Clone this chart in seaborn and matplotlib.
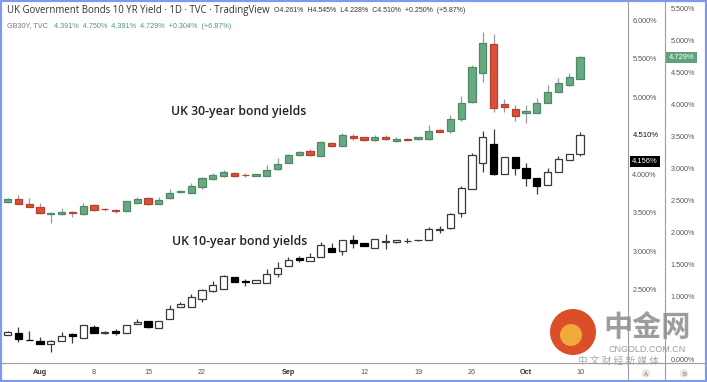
import numpy as np
import pandas as pd
import matplotlib
matplotlib.use("Agg")
import matplotlib.pyplot as plt
import seaborn as sns
from matplotlib.lines import Line2D
from matplotlib.patches import Rectangle, Ellipse
from matplotlib.ticker import FixedLocator, FuncFormatter

# ---------------- data ----------------
dates = pd.bdate_range("2022-07-27", "2022-10-10")

# UK 30Y (GB30Y) OHLC, %
o30 = [2.469, 2.520, 2.438, 2.395, 2.289, 2.281, 2.313, 2.281, 2.427, 2.359,
       2.348, 2.328, 2.448, 2.536, 2.433, 2.527, 2.620, 2.609, 2.708, 2.828,
       2.870, 2.927, 2.895, 2.880, 2.880, 2.980, 3.083, 3.203, 3.270, 3.192,
       3.395, 3.348, 3.495, 3.480, 3.430, 3.480, 3.422, 3.461, 3.448, 3.448,
       3.591, 3.578, 3.766, 4.027, 4.489, 4.938, 4.000, 3.922, 3.855, 3.864,
       4.020, 4.192, 4.297, 4.391]
h30 = [2.536, 2.578, 2.527, 2.448, 2.313, 2.380, 2.328, 2.448, 2.438, 2.375,
       2.359, 2.484, 2.542, 2.547, 2.552, 2.677, 2.656, 2.761, 2.852, 2.917,
       2.969, 2.938, 2.927, 2.914, 3.052, 3.161, 3.219, 3.273, 3.297, 3.422,
       3.406, 3.542, 3.539, 3.492, 3.516, 3.508, 3.477, 3.469, 3.484, 3.672,
       3.602, 3.828, 4.125, 4.609, 5.120, 5.089, 4.078, 3.984, 3.984, 4.098,
       4.297, 4.402, 4.480, 4.750]
l30 = [2.461, 2.433, 2.391, 2.277, 2.136, 2.273, 2.239, 2.273, 2.328, 2.333,
       2.292, 2.320, 2.445, 2.422, 2.430, 2.523, 2.609, 2.602, 2.677, 2.820,
       2.867, 2.867, 2.864, 2.875, 2.875, 2.973, 3.078, 3.195, 3.195, 3.188,
       3.328, 3.344, 3.438, 3.422, 3.422, 3.438, 3.414, 3.422, 3.445, 3.445,
       3.555, 3.547, 3.734, 4.016, 4.348, 3.875, 3.880, 3.739, 3.698, 3.859,
       4.016, 4.188, 4.289, 4.391]
c30 = [2.516, 2.442, 2.395, 2.292, 2.297, 2.313, 2.297, 2.411, 2.344, 2.352,
       2.336, 2.480, 2.520, 2.438, 2.500, 2.609, 2.645, 2.714, 2.844, 2.891,
       2.933, 2.875, 2.886, 2.906, 2.973, 3.063, 3.198, 3.255, 3.203, 3.411,
       3.339, 3.516, 3.469, 3.433, 3.481, 3.448, 3.461, 3.433, 3.477, 3.583,
       3.566, 3.766, 4.020, 4.573, 4.948, 3.933, 3.953, 3.817, 3.886, 4.020,
       4.192, 4.323, 4.417, 4.729]

# UK 10Y OHLC, %
o10 = [1.909, 1.931, 1.848, 1.835, 1.788, 1.827, 1.922, 1.870, 2.017, 1.931,
       1.957, 1.931, 2.052, 2.095, 2.000, 2.123, 2.273, 2.277, 2.373, 2.481,
       2.503, 2.658, 2.604, 2.588, 2.588, 2.701, 2.809, 2.913, 2.874, 2.918,
       3.035, 3.004, 3.143, 3.108, 3.043, 3.113, 3.113, 3.132, 3.139, 3.143,
       3.277, 3.295, 3.490, 3.801, 4.139, 4.390, 4.000, 4.217, 4.082, 3.944,
       3.857, 4.030, 4.182, 4.261]
h10 = [1.955, 2.009, 1.961, 1.883, 1.844, 1.952, 1.929, 2.039, 2.043, 1.961,
       1.983, 2.045, 2.117, 2.097, 2.091, 2.295, 2.342, 2.438, 2.501, 2.610,
       2.682, 2.662, 2.640, 2.627, 2.762, 2.860, 2.926, 2.935, 2.978, 3.121,
       3.108, 3.149, 3.208, 3.110, 3.156, 3.221, 3.149, 3.164, 3.143, 3.308,
       3.325, 3.500, 3.848, 4.269, 4.558, 4.584, 4.221, 4.221, 4.139, 3.948,
       4.074, 4.234, 4.260, 4.545]
l10 = [1.903, 1.822, 1.838, 1.786, 1.692, 1.825, 1.801, 1.864, 1.929, 1.925,
       1.905, 1.929, 2.048, 2.000, 1.994, 2.121, 2.269, 2.273, 2.342, 2.474,
       2.501, 2.597, 2.545, 2.584, 2.584, 2.666, 2.805, 2.861, 2.870, 2.916,
       2.987, 2.948, 3.035, 3.065, 3.039, 3.022, 3.110, 3.100, 3.136, 3.139,
       3.230, 3.292, 3.445, 3.799, 4.030, 3.987, 3.996, 3.987, 3.844, 3.740,
       3.853, 4.026, 4.178, 4.228]
c10 = [1.944, 1.861, 1.840, 1.792, 1.835, 1.896, 1.896, 2.035, 1.931, 1.952,
       1.935, 2.043, 2.082, 2.009, 2.087, 2.253, 2.309, 2.406, 2.494, 2.558,
       2.675, 2.601, 2.597, 2.623, 2.701, 2.775, 2.883, 2.883, 2.926, 3.078,
       2.991, 3.143, 3.108, 3.069, 3.152, 3.126, 3.143, 3.136, 3.143, 3.282,
       3.286, 3.487, 3.814, 4.247, 4.477, 4.000, 4.217, 4.082, 3.944, 3.848,
       4.030, 4.191, 4.256, 4.510]

tick_dates = ["2022-08-01", "2022-08-08", "2022-08-15", "2022-08-22", "2022-09-01",
              "2022-09-12", "2022-09-19", "2022-09-26", "2022-10-03", "2022-10-10"]
tick_labels = ["Aug", "8", "15", "22", "Sep", "12", "19", "26", "Oct", "10"]
month_labels = {"Aug", "Sep", "Oct"}

ticks_10y = [2.5, 3.0, 3.5, 4.0, 5.0, 5.5, 6.0]
ticks_30y = [0.0, 1.0, 1.5, 2.0, 2.5, 3.0, 3.5, 4.0, 4.5, 5.0, 5.5]

df = pd.DataFrame({"date": dates, "o30": o30, "h30": h30, "l30": l30, "c30": c30,
                   "o10": o10, "h10": h10, "l10": l10, "c10": c10})
df["i"] = np.arange(len(df))

# ---------------- style ----------------
sns.set_theme(style="white")
plt.rcParams["font.family"] = ["Liberation Sans", "DejaVu Sans"]

W, H = 707, 382
fig = plt.figure(figsize=(W / 100, H / 100), dpi=100)
fig.patch.set_facecolor("white")

def fx(px):
    return px / W

def fy(py):
    return 1 - py / H

ax = fig.add_axes([fx(2), 19 / H, (627 - 2) / W, (363 - 2) / H])
ax2 = ax.twinx()
for a in (ax, ax2):
    for s in a.spines.values():
        s.set_visible(False)
    a.set_facecolor("none")

ax.set_xlim(-0.52, 57.35)
ax.set_ylim(1.5455, 6.2338)
ax2.set_ylim(-0.0469, 5.594)

# ---------------- candles ----------------
def draw_candles(a, o, h, l, c, up_face, up_edge, dn_face, dn_edge, wick):
    x = df["i"].to_numpy()
    o = np.asarray(o); h = np.asarray(h); l = np.asarray(l); c = np.asarray(c)
    up = c >= o
    a.vlines(x, l, h, color=wick, lw=0.9, zorder=2)
    bottom = np.minimum(o, c)
    height = np.abs(c - o)
    a.bar(x[up], height[up], bottom=bottom[up], width=0.66,
          color=up_face, edgecolor=up_edge, linewidth=0.9, zorder=3)
    a.bar(x[~up], height[~up], bottom=bottom[~up], width=0.66,
          color=dn_face, edgecolor=dn_edge, linewidth=0.9, zorder=3)

draw_candles(ax, df.o10, df.h10, df.l10, df.c10,
             "white", "#3a3a3a", "black", "black", "#3a3a3a")
draw_candles(ax2, df.o30, df.h30, df.l30, df.c30,
             "#69a982", "#4e8a66", "#d9513b", "#b8412e", "#9a9a9a")

# ---------------- axes / ticks ----------------
date_index = {d.strftime("%Y-%m-%d"): k for k, d in enumerate(df["date"])}
tick_pos = [date_index[d] for d in tick_dates]
ax.set_xticks(tick_pos)
ax.set_xticklabels(tick_labels)
ax.tick_params(axis="x", length=0, pad=4.5, labelsize=5.2, labelcolor="#555555")
for lbl in ax.get_xticklabels():
    if lbl.get_text() in month_labels:
        lbl.set_fontweight("bold")
        lbl.set_color("#333333")

fmt = FuncFormatter(lambda v, p: f"{v:.3f}%")
ax.yaxis.tick_right()
ax.yaxis.set_major_locator(FixedLocator(ticks_10y))
ax.yaxis.set_major_formatter(fmt)
ax.tick_params(axis="y", which="both", left=False, right=False, labelleft=False,
               labelright=True, length=0, pad=3.8, labelsize=5.2, labelcolor="#555555")

ax2.spines["right"].set_position(("axes", (664 - 2) / (627 - 2)))
ax2.yaxis.set_major_locator(FixedLocator(ticks_30y))
ax2.yaxis.set_major_formatter(fmt)
ax2.tick_params(axis="y", length=0, pad=4.8, labelsize=5.2, labelcolor="#555555")
ax.grid(False)
ax2.grid(False)

# frame lines (TradingView style)
line_c = "#9e9e9e"
fig.add_artist(Line2D([fx(627.5), fx(627.5)], [0, 1], color=line_c, lw=0.8))
fig.add_artist(Line2D([fx(664.5), fx(664.5)], [0, 1], color=line_c, lw=0.8))
fig.add_artist(Line2D([0, 1], [fy(363), fy(363)], color=line_c, lw=0.8))

# price labels on scales
fig.text(fx(645.5), fy(136), "4.510%", ha="center", va="center", fontsize=5.6,
         color="#111111", bbox=dict(boxstyle="square,pad=0.35", fc="white", ec="none"))
fig.text(fx(645), fy(161.5), "4.156%", ha="center", va="center", fontsize=5.4,
         color="white", bbox=dict(boxstyle="square,pad=0.3", fc="black", ec="none"))
fig.text(fx(681.5), fy(57.5), "4.729%", ha="center", va="center", fontsize=5.4,
         color="white", bbox=dict(boxstyle="square,pad=0.3", fc="#5fa37c", ec="none"))

# A / B scale markers
for px, t in ((646, "A"), (684, "B")):
    fig.add_artist(Ellipse((fx(px), fy(373.5)), width=8.4 / W, height=8.4 / H,
                           transform=fig.transFigure, fc="#e6e6e6", ec="none"))
    fig.text(fx(px), fy(374), t, ha="center", va="center", fontsize=4.2, color="#777777")

# header
fig.text(fx(7), fy(10), "UK Government Bonds 10 YR Yield · 1D · TVC · TradingView",
         ha="left", va="center", fontsize=6.9, color="#333333", family=["Open Sans", "DejaVu Sans"])
fig.text(fx(274), fy(10.5), "O4.261%  H4.545%  L4.228%  C4.510%  +0.250%  (+5.87%)",
         ha="left", va="center", fontsize=5.0, color="#333333")
fig.text(fx(7), fy(26), "GB30Y, TVC", ha="left", va="center", fontsize=5.2, color="#777777")
fig.text(fx(54), fy(26), "4.391%  4.750%  4.391%  4.729%  +0.304%  (+6.87%)",
         ha="left", va="center", fontsize=5.2, color="#4f9a6b")

# annotations
fig.text(fx(171), fy(111), "UK 30-year bond yields", ha="left", va="center",
         fontsize=8.8, fontweight="semibold", color="#222222",
         family=["Open Sans", "DejaVu Sans"])
fig.text(fx(172), fy(242), "UK 10-year bond yields", ha="left", va="center",
         fontsize=8.8, fontweight="semibold", color="#222222",
         family=["Open Sans", "DejaVu Sans"])

# source watermark
fig.add_artist(Ellipse((fx(573), fy(332)), width=46 / W, height=46 / H,
                       transform=fig.transFigure, fc="#d8441c", ec="none", alpha=0.95))
fig.add_artist(Ellipse((fx(571), fy(335)), width=22 / W, height=22 / H,
                       transform=fig.transFigure, fc="#f2b03b", ec="none", alpha=0.95))
fig.text(fx(647), fy(327), "中金网", ha="center", va="center", fontsize=21,
         fontweight="bold", color="#8c8c8c", alpha=0.85,
         family=["Noto Sans CJK SC", "DejaVu Sans"])
fig.text(fx(647), fy(349), "CNGOLD.COM.CN", ha="center", va="center", fontsize=6.5,
         color="#8c8c8c", alpha=0.85)
fig.text(fx(618), fy(361), "中 文 财 经 新 媒 体", ha="center", va="center", fontsize=7,
         color="#9a9a9a", alpha=0.85, family=["Noto Sans CJK SC", "DejaVu Sans"])

# outer border
fig.add_artist(Rectangle((0, 0), 1, 1, transform=fig.transFigure, fill=False,
                         ec="#7d9af0", lw=3))

fig.savefig("out.png", dpi=100)
